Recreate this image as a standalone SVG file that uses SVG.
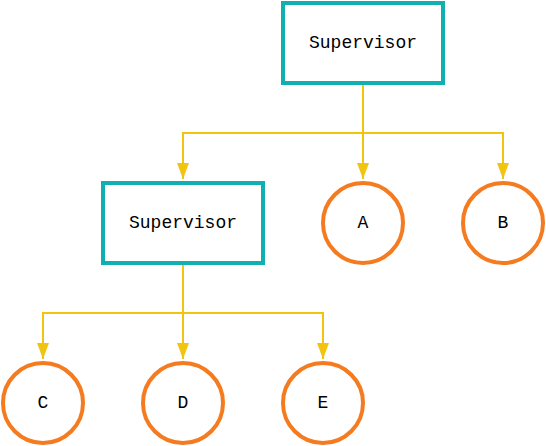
<svg xmlns="http://www.w3.org/2000/svg" width="546" height="446" viewBox="0 0 546 446">
<defs>
<style>
.box{fill:#fff;stroke:#0fafb2;stroke-width:4}
.leaf{fill:#fff;stroke:#f47b20;stroke-width:4}
.lbl{font-family:"Liberation Mono",monospace;font-size:18px;fill:#000;text-anchor:middle;dominant-baseline:central}
.edge{fill:none;stroke:#f1c40f;stroke-width:2}
</style>
<marker id="ah" viewBox="0 0 16 12" refX="16" refY="6" markerWidth="16" markerHeight="12" orient="auto" markerUnits="userSpaceOnUse">
<path d="M0,0 L16,6 L0,12 Z" fill="#f1c40f"/>
</marker>
</defs>
<rect width="546" height="446" fill="#fff"/>
<g id="connectors">
<path class="edge" d="M363,85 V179" marker-end="url(#ah)"/>
<path class="edge" d="M363,133 H183 V179" marker-end="url(#ah)"/>
<path class="edge" d="M363,133 H503 V179" marker-end="url(#ah)"/>
<path class="edge" d="M183,265 V359" marker-end="url(#ah)"/>
<path class="edge" d="M183,313 H43 V359" marker-end="url(#ah)"/>
<path class="edge" d="M183,313 H323 V359" marker-end="url(#ah)"/>
</g>
<g id="sup1"><rect class="box" x="283" y="3" width="160" height="80"/><text class="lbl" x="363" y="43">Supervisor</text></g>
<g id="sup2"><rect class="box" x="103" y="183" width="160" height="80"/><text class="lbl" x="183" y="223">Supervisor</text></g>
<g id="A"><circle class="leaf" cx="363" cy="223" r="40"/><text class="lbl" x="363" y="223">A</text></g>
<g id="B"><circle class="leaf" cx="503" cy="223" r="40"/><text class="lbl" x="503" y="223">B</text></g>
<g id="C"><circle class="leaf" cx="43" cy="403" r="40"/><text class="lbl" x="43" y="403">C</text></g>
<g id="D"><circle class="leaf" cx="183" cy="403" r="40"/><text class="lbl" x="183" y="403">D</text></g>
<g id="E"><circle class="leaf" cx="323" cy="403" r="40"/><text class="lbl" x="323" y="403">E</text></g>
</svg>
